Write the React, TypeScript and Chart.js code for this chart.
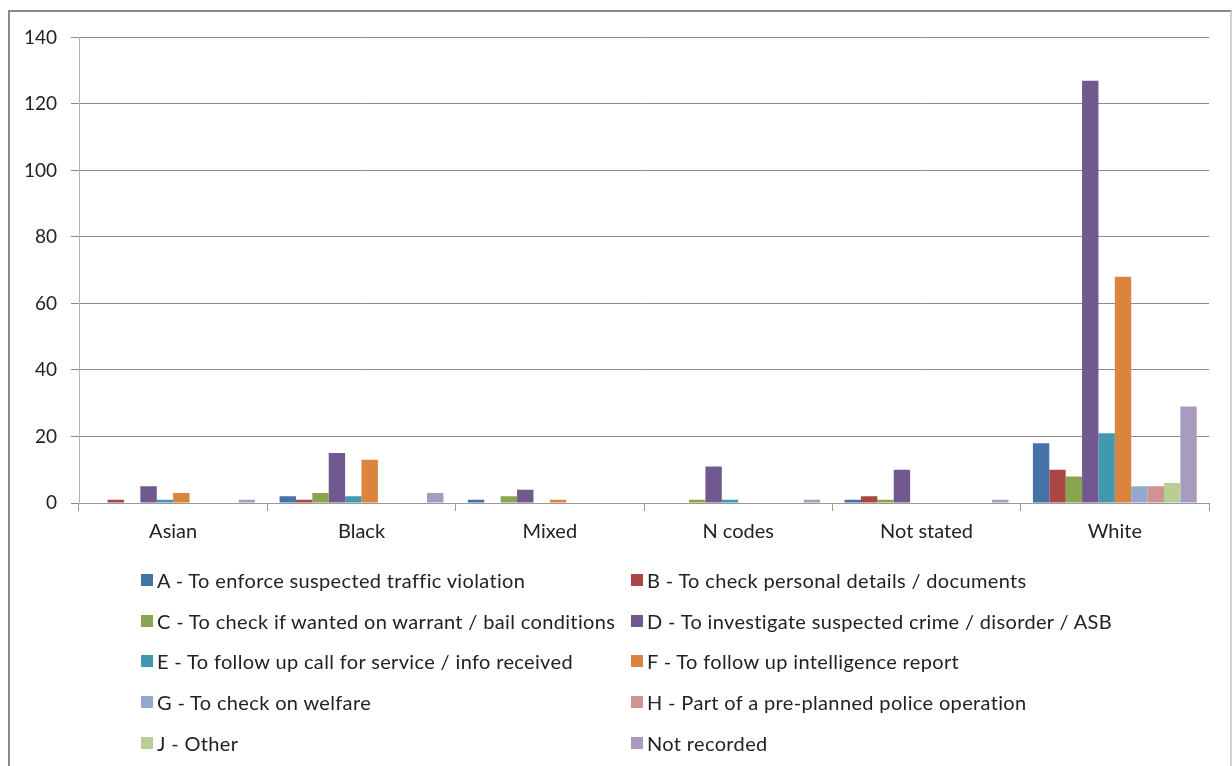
import React, { useEffect, useRef } from "react";
import { Chart, registerables } from "chart.js";

Chart.register(...registerables);

const categories = ["Asian", "Black", "Mixed", "N codes", "Not stated", "White"];

const seriesNames = [
  "A - To enforce suspected traffic violation",
  "B - To check personal details / documents",
  "C - To check if wanted on warrant / bail conditions",
  "D - To investigate suspected crime / disorder / ASB",
  "E - To follow up call for service / info received",
  "F - To follow up intelligence report",
  "G - To check on welfare",
  "H - Part of a pre-planned police operation",
  "J - Other",
  "Not recorded",
];

const seriesColors = [
  "#4572A7", "#AA4643", "#89A54E", "#71588F", "#4198AF",
  "#DB843D", "#93A9CF", "#D19392", "#B9CD96", "#A99BBD",
];

const valuesA = [0, 2, 1, 0, 1, 18];
const valuesB = [1, 1, 0, 0, 2, 10];
const valuesC = [0, 3, 2, 1, 1, 8];
const valuesD = [5, 15, 4, 11, 10, 127];
const valuesE = [1, 2, 0, 1, 0, 21];
const valuesF = [3, 13, 1, 0, 0, 68];
const valuesG = [0, 0, 0, 0, 0, 5];
const valuesH = [0, 0, 0, 0, 0, 5];
const valuesJ = [0, 0, 0, 0, 0, 6];
const valuesNR = [1, 3, 0, 1, 1, 29];

const seriesValues = [valuesA, valuesB, valuesC, valuesD, valuesE, valuesF, valuesG, valuesH, valuesJ, valuesNR];

const yTicks = [0, 20, 40, 60, 80, 100, 120, 140];

const FONT = "Lato, 'Open Sans', sans-serif";

export default function App() {
  const ref = useRef<HTMLCanvasElement | null>(null);

  useEffect(() => {
    if (!ref.current) return;
    const chart = new Chart(ref.current, {
      type: "bar",
      data: {
        labels: categories,
        datasets: seriesNames.map((name, i) => ({
          label: name,
          data: seriesValues[i],
          backgroundColor: seriesColors[i],
          borderWidth: 0,
          categoryPercentage: 0.87,
          barPercentage: 1,
        })),
      },
      options: {
        animation: false,
        responsive: true,
        maintainAspectRatio: false,
        layout: { padding: { left: 0, top: 24, right: 21, bottom: 203 } },
        plugins: {
          legend: { display: false },
          tooltip: { enabled: false },
        },
        scales: {
          x: {
            offset: true,
            grid: {
              display: true,
              offset: true,
              drawOnChartArea: false,
              drawTicks: true,
              tickLength: 8,
              color: "#999999",
            },
            border: { display: true, color: "#999999" },
            ticks: {
              color: "#222222",
              font: { family: FONT, size: 20 },
              padding: 9,
              maxRotation: 0,
            },
            afterFit: (s: any) => {
              s.height = 60;
            },
          },
          y: {
            min: 0,
            max: 140,
            afterBuildTicks: (s: any) => {
              s.ticks = yTicks.map((v) => ({ value: v }));
            },
            grid: {
              color: "#8c8c8c",
              drawTicks: true,
              tickLength: 8,
            },
            border: { display: true, color: "#b4b4b4" },
            ticks: {
              color: "#222222",
              font: { family: FONT, size: 19 },
              padding: 14,
            },
            afterFit: (s: any) => {
              s.width = 69;
            },
          },
        },
      },
    });
    return () => chart.destroy();
  }, []);

  const rowTops = [580, 621, 661, 702, 743];
  const colLefts = [141, 631];

  return (
    <div
      style={{
        position: "absolute",
        left: 8,
        top: 10,
        width: 1224,
        height: 756,
        boxSizing: "border-box",
        borderLeft: "2px solid #8a8a8a",
        borderTop: "2px solid #8a8a8a",
        borderRight: "2px solid #d0d0d0",
        overflow: "hidden",
        background: "#fff",
      }}
    >
      <div style={{ position: "absolute", left: 0, top: 0, width: 1220, height: 754 }}>
        <canvas ref={ref} />
      </div>
      {seriesNames.map((name, i) => {
        const row = Math.floor(i / 2);
        const col = i % 2;
        return (
          <div
            key={name}
            style={{
              position: "absolute",
              left: colLefts[col] - 10,
              top: rowTops[row] - 12 - 12,
              height: 24,
              display: "flex",
              alignItems: "center",
              whiteSpace: "nowrap",
              fontFamily: FONT,
              fontSize: 20,
              letterSpacing: "0.35px",
              color: "#222",
            }}
          >
            <span
              style={{
                display: "inline-block",
                width: 12,
                height: 12,
                background: seriesColors[i],
                marginRight: 4,
              }}
            />
            <span>{name}</span>
          </div>
        );
      })}
    </div>
  );
}
